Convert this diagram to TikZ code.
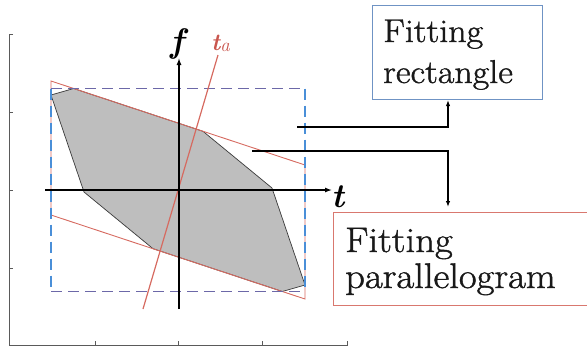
\documentclass[tikz,border=0pt]{standalone}
\usepackage{fontspec}
\newfontfamily\boxfont[FakeBold=1.2,FakeStretch=1.09]{Latin Modern Roman}
\usetikzlibrary{arrows.meta,calc}
\definecolor{redline}{HTML}{D66A60}
\definecolor{rectblue}{HTML}{4A8FD8}
\definecolor{rectpurple}{HTML}{6C68A8}
\definecolor{boxblue}{HTML}{6F93C4}
\definecolor{boxred}{HTML}{D9786F}
\definecolor{polyfill}{HTML}{BEBEBE}
\definecolor{polyedge}{HTML}{3A3A3A}
\definecolor{framegrey}{HTML}{5A5A5A}
\definecolor{labred}{HTML}{C9564E}
\tikzset{
  frame/.style={draw=framegrey, line width=0.9pt},
  axisln/.style={line width=1.3pt, -{Latex[length=7pt,width=5pt]}},
  conn/.style={line width=1.3pt},
  arr/.style={-{Latex[length=6pt,width=4.5pt]}},
  redln/.style={draw=redline, line width=0.9pt},
  rdash/.style={dash pattern=on 11pt off 6pt, line width=1.1pt},
  rbox/.style={draw=boxblue, line width=1.1pt, minimum width=170pt, minimum height=94pt, inner sep=0pt, anchor=north west},
  pbox/.style={draw=boxred, line width=1.1pt, minimum width=300pt, minimum height=93pt, inner sep=0pt, anchor=north west},
  rtext/.style={inner sep=0pt, anchor=base west, text=black!90, font=\boxfont\fontsize{33}{33}\selectfont},
  ptext/.style={inner sep=0pt, anchor=base west, text=black!90, font=\boxfont\fontsize{35.5}{35.5}\selectfont},
  axlab/.style={inner sep=0pt, font=\fontsize{34}{34}\selectfont\bfseries\itshape},
}
\begin{document}
\begin{tikzpicture}[x=1pt,y=-1pt]
\useasboundingbox (0,0) rectangle (587,354);
% outer frame
\draw[frame] (13,34) -- (9,34) -- (9,345) -- (347,345) -- (347,341);
\foreach \y in {112,190,268} \draw[frame] (9,\y) -- (13,\y);
\foreach \x in {95,178,262} \draw[frame] (\x,345) -- (\x,341);
% polygon
\filldraw[fill=polyfill, draw=polyedge, line width=0.7pt]
  (51,95) -- (73.7,88.5) -- (203,131.3) -- (272,188) -- (305,285)
  -- (282.3,291.5) -- (153,248.7) -- (84,192) -- cycle;
% parallelogram
\draw[redln] (51,81) -- (305,165) -- (305,299) -- (51,215) -- cycle;
% rectangle
\draw[rdash, draw=rectpurple] (51,88.5) -- (305,88.5);
\draw[rdash, draw=rectpurple] (51,291.5) -- (305,291.5);
\draw[rdash, draw=rectblue] (51,88.5) -- (51,291.5);
\draw[rdash, draw=rectblue] (305,88.5) -- (305,291.5);
% t_a line
\draw[draw=redline, line width=1.2pt] (143,309) -- (218,55);
% axes
\coordinate (tStart) at (45,190);
\coordinate (tEnd) at (332,190);
\coordinate (fStart) at (179,309);
\coordinate (fEnd) at (179,58);
\draw[axisln] (tStart) -- (tEnd);
\draw[axisln] (fStart) -- (fEnd);
\node[axlab, anchor=base] (fLab) at (177,52) {f};
\node[axlab, anchor=base west] (tLab) at (331,207) {t};
\node[inner sep=0pt, anchor=base west, text=labred, font=\fontsize{24}{24}\selectfont\bfseries\itshape] (taLab) at (211,50) {t\raisebox{-1pt}{\fontsize{19}{19}\selectfont\mdseries\itshape a}};
% boxes
\node[rbox] (rectBox) at (372,5) {};
\node[rtext] (rectT1) at (383,42) {Fitting};
\node[rtext] (rectT2) at (383,83) {rectangle};
\node[pbox] (paraBox) at (333,212) {};
\node[ptext] (paraT1) at (345,252) {Fitting};
\node[ptext] (paraT2) at (345,288) {parallelogram};
% connectors
\coordinate (r0) at (297,127);
\coordinate (p0) at (252,151);
\draw[conn, arr] (r0) -| ([xshift=76pt]rectBox.south west);
\draw[conn, arr, shorten >=5pt] (p0) -| ([xshift=115pt]paraBox.north west);
\end{tikzpicture}
\end{document}
